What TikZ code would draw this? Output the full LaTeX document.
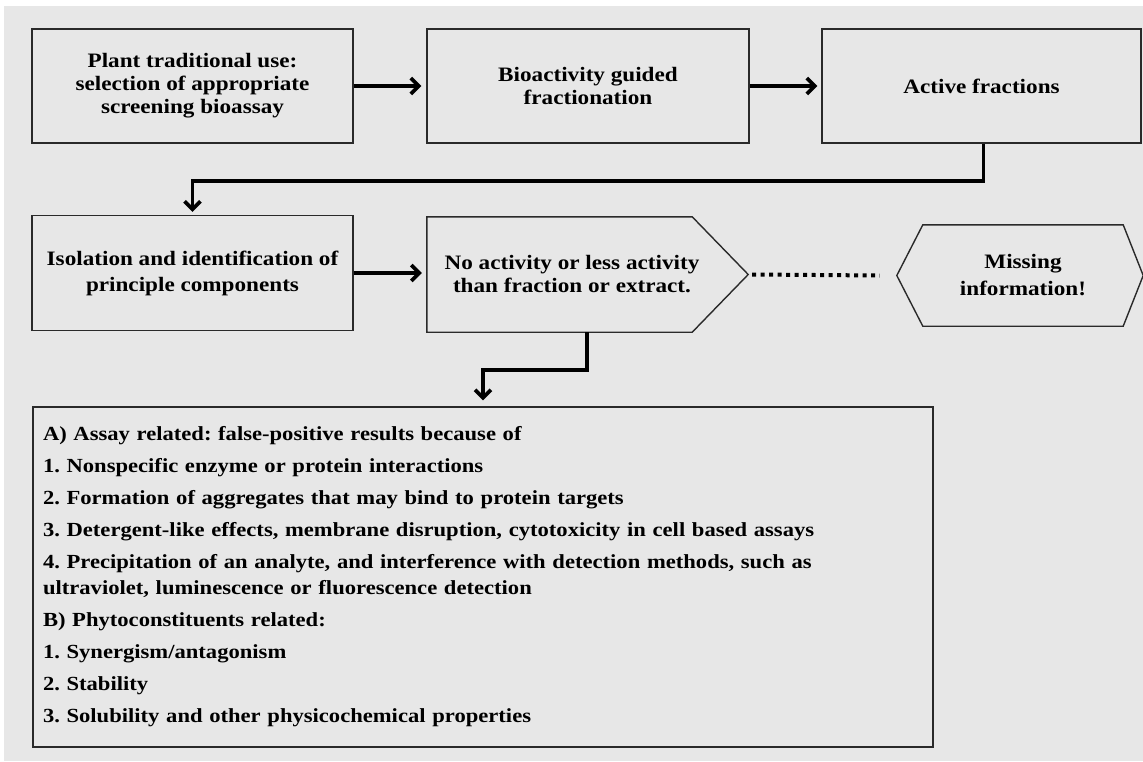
\documentclass[tikz,border=0pt]{standalone}
\usepackage{fontspec}
\setmainfont{Liberation Serif}[FakeStretch=1.13]
\usetikzlibrary{arrows.meta}
\definecolor{bggray}{HTML}{E7E7E7}
\definecolor{edge}{HTML}{2A2A2A}
\frenchspacing
\begin{document}
\frenchspacing
\begin{tikzpicture}[x=1pt,y=-1pt,
  flowbox/.style={draw=edge, line width=1.4pt, inner sep=0pt, align=center,
    font=\bfseries\fontsize{20.5}{23}\selectfont},
  plain/.style={inner sep=0pt, align=center, font=\bfseries\fontsize{20.5}{23}\selectfont},
  outline/.style={draw=edge, line width=1.4pt, line join=miter},
  conn/.style={line width=3.6pt, -{Straight Barb[length=8pt,width=16pt]}},
  dotconn/.style={line width=4pt, dash pattern=on 4pt off 4.5pt},
  listbox/.style={draw=edge, line width=1.4pt, inner xsep=10pt, inner ysep=0pt,
    align=left, font=\bfseries\fontsize{20}{26}\selectfont}]
\useasboundingbox (0,0) rectangle (1143,761);
\fill[white] (0,0) rectangle (1143,761);
\fill[bggray] (4,6) rectangle (1143,761);

\node[flowbox, minimum width=321pt, minimum height=114pt] (b1) at (192.5,86)
  {Plant traditional use:\\selection of appropriate\\screening bioassay};
\node[flowbox, minimum width=322pt, minimum height=114pt] (b2) at (588,86)
  {Bioactivity guided\\fractionation};
\node[flowbox, minimum width=319pt, minimum height=114pt] (b3) at (981.5,86)
  {Active fractions};
\node[flowbox, minimum width=321pt, minimum height=115pt, font=\bfseries\fontsize{20.5}{26}\selectfont] (b4) at (192.5,273)
  {Isolation and identification of\\principle components};

% pentagon (arrow-shaped) box
\node[plain, minimum width=290pt, minimum height=115pt] (p) at (572,274.5)
  {No activity or less activity\\than fraction or extract.};
\draw[outline] (p.north west) -- ([xshift=-25pt]p.north east) -- ([xshift=31pt]p.east)
  -- ([xshift=-25pt]p.south east) -- (p.south west) -- cycle;

% hexagon
\node[plain, minimum width=200pt, minimum height=101pt, font=\bfseries\fontsize{20.5}{27}\selectfont] (h) at (1023,275.5)
  {Missing\\information!};
\draw[outline] (h.north west) -- (h.north east) -- ([xshift=20pt]h.east)
  -- (h.south east) -- (h.south west) -- ([xshift=-26pt]h.west) -- cycle;

% list box
\node[listbox, text width=880pt, minimum width=900pt, minimum height=340pt] (bb) at (483,577)
  {A) Assay related: false-positive results because of\\[6pt]
   1. Nonspecific enzyme or protein interactions\\[6pt]
   2. Formation of aggregates that may bind to protein targets\\[6pt]
   3. Detergent-like effects, membrane disruption, cytotoxicity in cell based assays\\[6pt]
   4. Precipitation of an analyte, and interference with detection methods, such as\\
   ultraviolet, luminescence or fluorescence detection\\[6pt]
   B) Phytoconstituents related:\\[6pt]
   1. Synergism/antagonism\\[6pt]
   2. Stability\\[6pt]
   3. Solubility and other physicochemical properties};

% connectors
\draw[conn, shorten >=5pt] (b1.east) -- (b2.west);
\draw[conn, shorten >=4pt] (b2.east) -- (b3.west);
\draw[conn, shorten >=3pt] ([xshift=2pt]b3.south) -- ++(0,37) -| (b4.north);
\draw[conn, shorten >=5pt] (b4.east) -- (b4.east -| p.west);
\draw[dotconn] ([xshift=35pt]p.east) -- ([xshift=-43pt]h.west);
\draw[conn, shorten >=6pt] ([xshift=15pt]p.south) -- ++(0,38) -| (bb.north);
\end{tikzpicture}
\end{document}
